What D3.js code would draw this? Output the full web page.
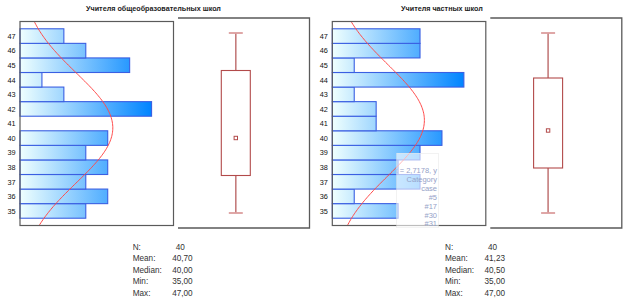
<!DOCTYPE html>
<html>
<head>
<meta charset="utf-8">
<script src="https://cdn.jsdelivr.net/npm/d3@7"></script>
<style>
  html, body { margin: 0; padding: 0; background: #fff; }
  svg { display: block; font-family: "Liberation Sans", Arial, sans-serif; }
</style>
</head>
<body>
<div id="chart"></div>
<script>
// Histograms with normal fit + box plots, two groups of teachers

const scores = [35, 36, 37, 38, 39, 40, 41, 42, 43, 44, 45, 46, 47];
const countsGeneral = [3, 4, 3, 4, 3, 4, 0, 6, 2, 1, 5, 3, 2];
const countsPrivate = [3, 1, 4, 3, 4, 5, 2, 2, 1, 6, 1, 4, 4];

// min, Q1, median, Q3, max
const boxGeneral = [35, 37.5, 40, 44.5, 47];
const boxPrivate = [35, 38, 40.5, 44, 47];

const statLabels = ["N:", "Mean:", "Median:", "Min:", "Max:"];
const statsGeneral = [40, 40.70, 40.00, 35.00, 47.00];
const statsPrivate = [40, 41.23, 40.50, 35.00, 47.00];

const titles = ["Учителя общеобразовательных школ", "Учителя частных школ"];
const ghostLines = ["x = 2,7178, y", "Category", "case", "#5", "#17", "#30", "#31"];

const width = 628, height = 301;
const fmt = v => d3.format(".2f")(v).replace(".", ",");

const svg = d3.select("#chart").append("svg")
  .attr("width", width)
  .attr("height", height);

const defs = svg.append("defs");

function drawPanel(idx, x0, titleX, counts, box, stats) {
  const g = svg.append("g");

  const x = d3.scaleLinear().domain([0, 7]).range([x0, x0 + 153.5]);
  const y = d3.scaleLinear().domain([34, 48]).range([225.5, 21.5]);

  const data = scores.map((s, i) => ({ score: s, count: counts[i] }));

  // title
  svg.append("text")
    .attr("x", titleX)
    .attr("y", 11)
    .attr("text-anchor", "middle")
    .style("font-size", "7.2px")
    .style("font-weight", "bold")
    .style("fill", "#222")
    .text(titles[idx]);

  // gradient across the count axis
  const grad = defs.append("linearGradient")
    .attr("id", "barGrad" + idx)
    .attr("gradientUnits", "userSpaceOnUse")
    .attr("x1", x(0)).attr("x2", x(6))
    .attr("y1", 0).attr("y2", 0);
  grad.append("stop").attr("offset", 0).attr("stop-color", "#effffe");
  grad.append("stop").attr("offset", 1).attr("stop-color", "#0084ff");

  defs.append("clipPath").attr("id", "clip" + idx)
    .append("rect")
    .attr("x", x(0)).attr("y", y(48))
    .attr("width", x(7) - x(0)).attr("height", y(34) - y(48));

  // bars
  g.selectAll("rect.bar")
    .data(data.filter(d => d.count > 0))
    .enter()
    .append("rect")
    .attr("class", "bar")
    .attr("x", x(0))
    .attr("y", d => y(d.score + 0.5))
    .attr("width", d => x(d.count) - x(0))
    .attr("height", d => y(d.score - 0.5) - y(d.score + 0.5))
    .attr("fill", `url(#barGrad${idx})`)
    .attr("stroke", "#3a5fe2")
    .attr("stroke-width", 1.1);

  // normal curve fitted to the counts
  const n = d3.sum(counts);
  const mean = d3.sum(data, d => d.score * d.count) / n;
  const sd = Math.sqrt(d3.sum(data, d => d.count * (d.score - mean) ** 2) / (n - 1));
  const curve = d3.range(34, 48.01, 0.1).map(v => ({
    v,
    c: n / (sd * Math.sqrt(2 * Math.PI)) * Math.exp(-0.5 * ((v - mean) / sd) ** 2)
  }));
  g.append("path")
    .datum(curve)
    .attr("clip-path", `url(#clip${idx})`)
    .attr("fill", "none")
    .attr("stroke", "#ff4a4a")
    .attr("stroke-width", 1)
    .attr("d", d3.line().x(d => x(d.c)).y(d => y(d.v)).curve(d3.curveBasis));

  // frame
  g.append("rect")
    .attr("x", x(0)).attr("y", y(48))
    .attr("width", x(7) - x(0)).attr("height", y(34) - y(48))
    .attr("fill", "none")
    .attr("stroke", "#5a5a5a")
    .attr("stroke-width", 1.2);

  // score labels
  const ax = g.append("g")
    .attr("transform", `translate(${x(0)},0)`)
    .call(d3.axisLeft(y).tickValues(scores).tickSize(0).tickPadding(4.5));
  ax.select(".domain").remove();
  ax.selectAll("text")
    .style("font-size", "7.3px")
    .style("font-family", "Liberation Sans, Arial, sans-serif")
    .style("fill", "#111");

  // box plot
  const bx0 = x0 + 158, bx1 = x0 + 289.5;
  const by = d3.scaleLinear().domain([34, 48]).range([228, 18]);
  const cx = x0 + 215.8;

  g.append("path")
    .attr("d", `M${bx0},${by(48)}H${bx1}V${by(34)}H${bx0}`)
    .attr("fill", "none")
    .attr("stroke", "#5a5a5a")
    .attr("stroke-width", 1.3);

  const [mn, q1, med, q3, mx] = box;
  g.append("line")
    .attr("x1", cx).attr("x2", cx)
    .attr("y1", by(mx)).attr("y2", by(q3))
    .attr("stroke", "#c47c7c").attr("stroke-width", 1.6);
  g.append("line")
    .attr("x1", cx).attr("x2", cx)
    .attr("y1", by(q1)).attr("y2", by(mn))
    .attr("stroke", "#c47c7c").attr("stroke-width", 1.6);
  [mn, mx].forEach(v => {
    g.append("line")
      .attr("x1", cx - 7).attr("x2", cx + 7)
      .attr("y1", by(v)).attr("y2", by(v))
      .attr("stroke", "#dc9e9e").attr("stroke-width", 1.8);
  });
  g.append("rect")
    .attr("x", cx - 14.5).attr("y", by(q3))
    .attr("width", 29).attr("height", by(q1) - by(q3))
    .attr("fill", "#fff")
    .attr("stroke", "#b24a4a")
    .attr("stroke-width", 1.1);
  g.append("rect")
    .attr("x", cx - 1.7).attr("y", by(med) - 1.7)
    .attr("width", 3.4).attr("height", 3.4)
    .attr("fill", "#fff")
    .attr("stroke", "#b24a4a")
    .attr("stroke-width", 1);

  // stats block
  const sx = x0 + 112.7;
  const rowY = d3.scaleLinear().domain([0, 4]).range([249.5, 295.5]);
  statLabels.forEach((lab, i) => {
    g.append("text")
      .attr("x", sx).attr("y", rowY(i))
      .style("font-size", "8.2px").style("fill", "#333")
      .text(lab);
    g.append("text")
      .attr("x", sx + (i === 0 ? 43 : 39.5)).attr("y", rowY(i))
      .style("font-size", "8.2px").style("fill", "#333")
      .text(i === 0 ? stats[i] : fmt(stats[i]));
  });
}

drawPanel(0, 20, 153.5, countsGeneral, boxGeneral, statsGeneral);
drawPanel(1, 332.3, 442, countsPrivate, boxPrivate, statsPrivate);

// faded leftover tooltip over the right histogram
const gx0 = 396.5, gx1 = 438.5, gy0 = 153, gy1 = 228;
defs.append("clipPath").attr("id", "ghostClip")
  .append("rect").attr("x", gx0).attr("y", gy0)
  .attr("width", gx1 - gx0).attr("height", gy1 - gy0);
const ghost = svg.append("g").attr("clip-path", "url(#ghostClip)");
ghost.append("rect")
  .attr("x", gx0).attr("y", gy0)
  .attr("width", gx1 - gx0).attr("height", gy1 - gy0)
  .attr("fill", "#fff")
  .attr("fill-opacity", 0.6)
  .attr("stroke", "#e6e6e6");
ghostLines.forEach((t, i) => {
  ghost.append("text")
    .attr("x", gx1 - 1.5)
    .attr("y", 173 + i * 8.9)
    .attr("text-anchor", "end")
    .style("font-size", "7.5px")
    .style("fill", "#95a2c8")
    .text(t);
});
</script>
</body>
</html>
